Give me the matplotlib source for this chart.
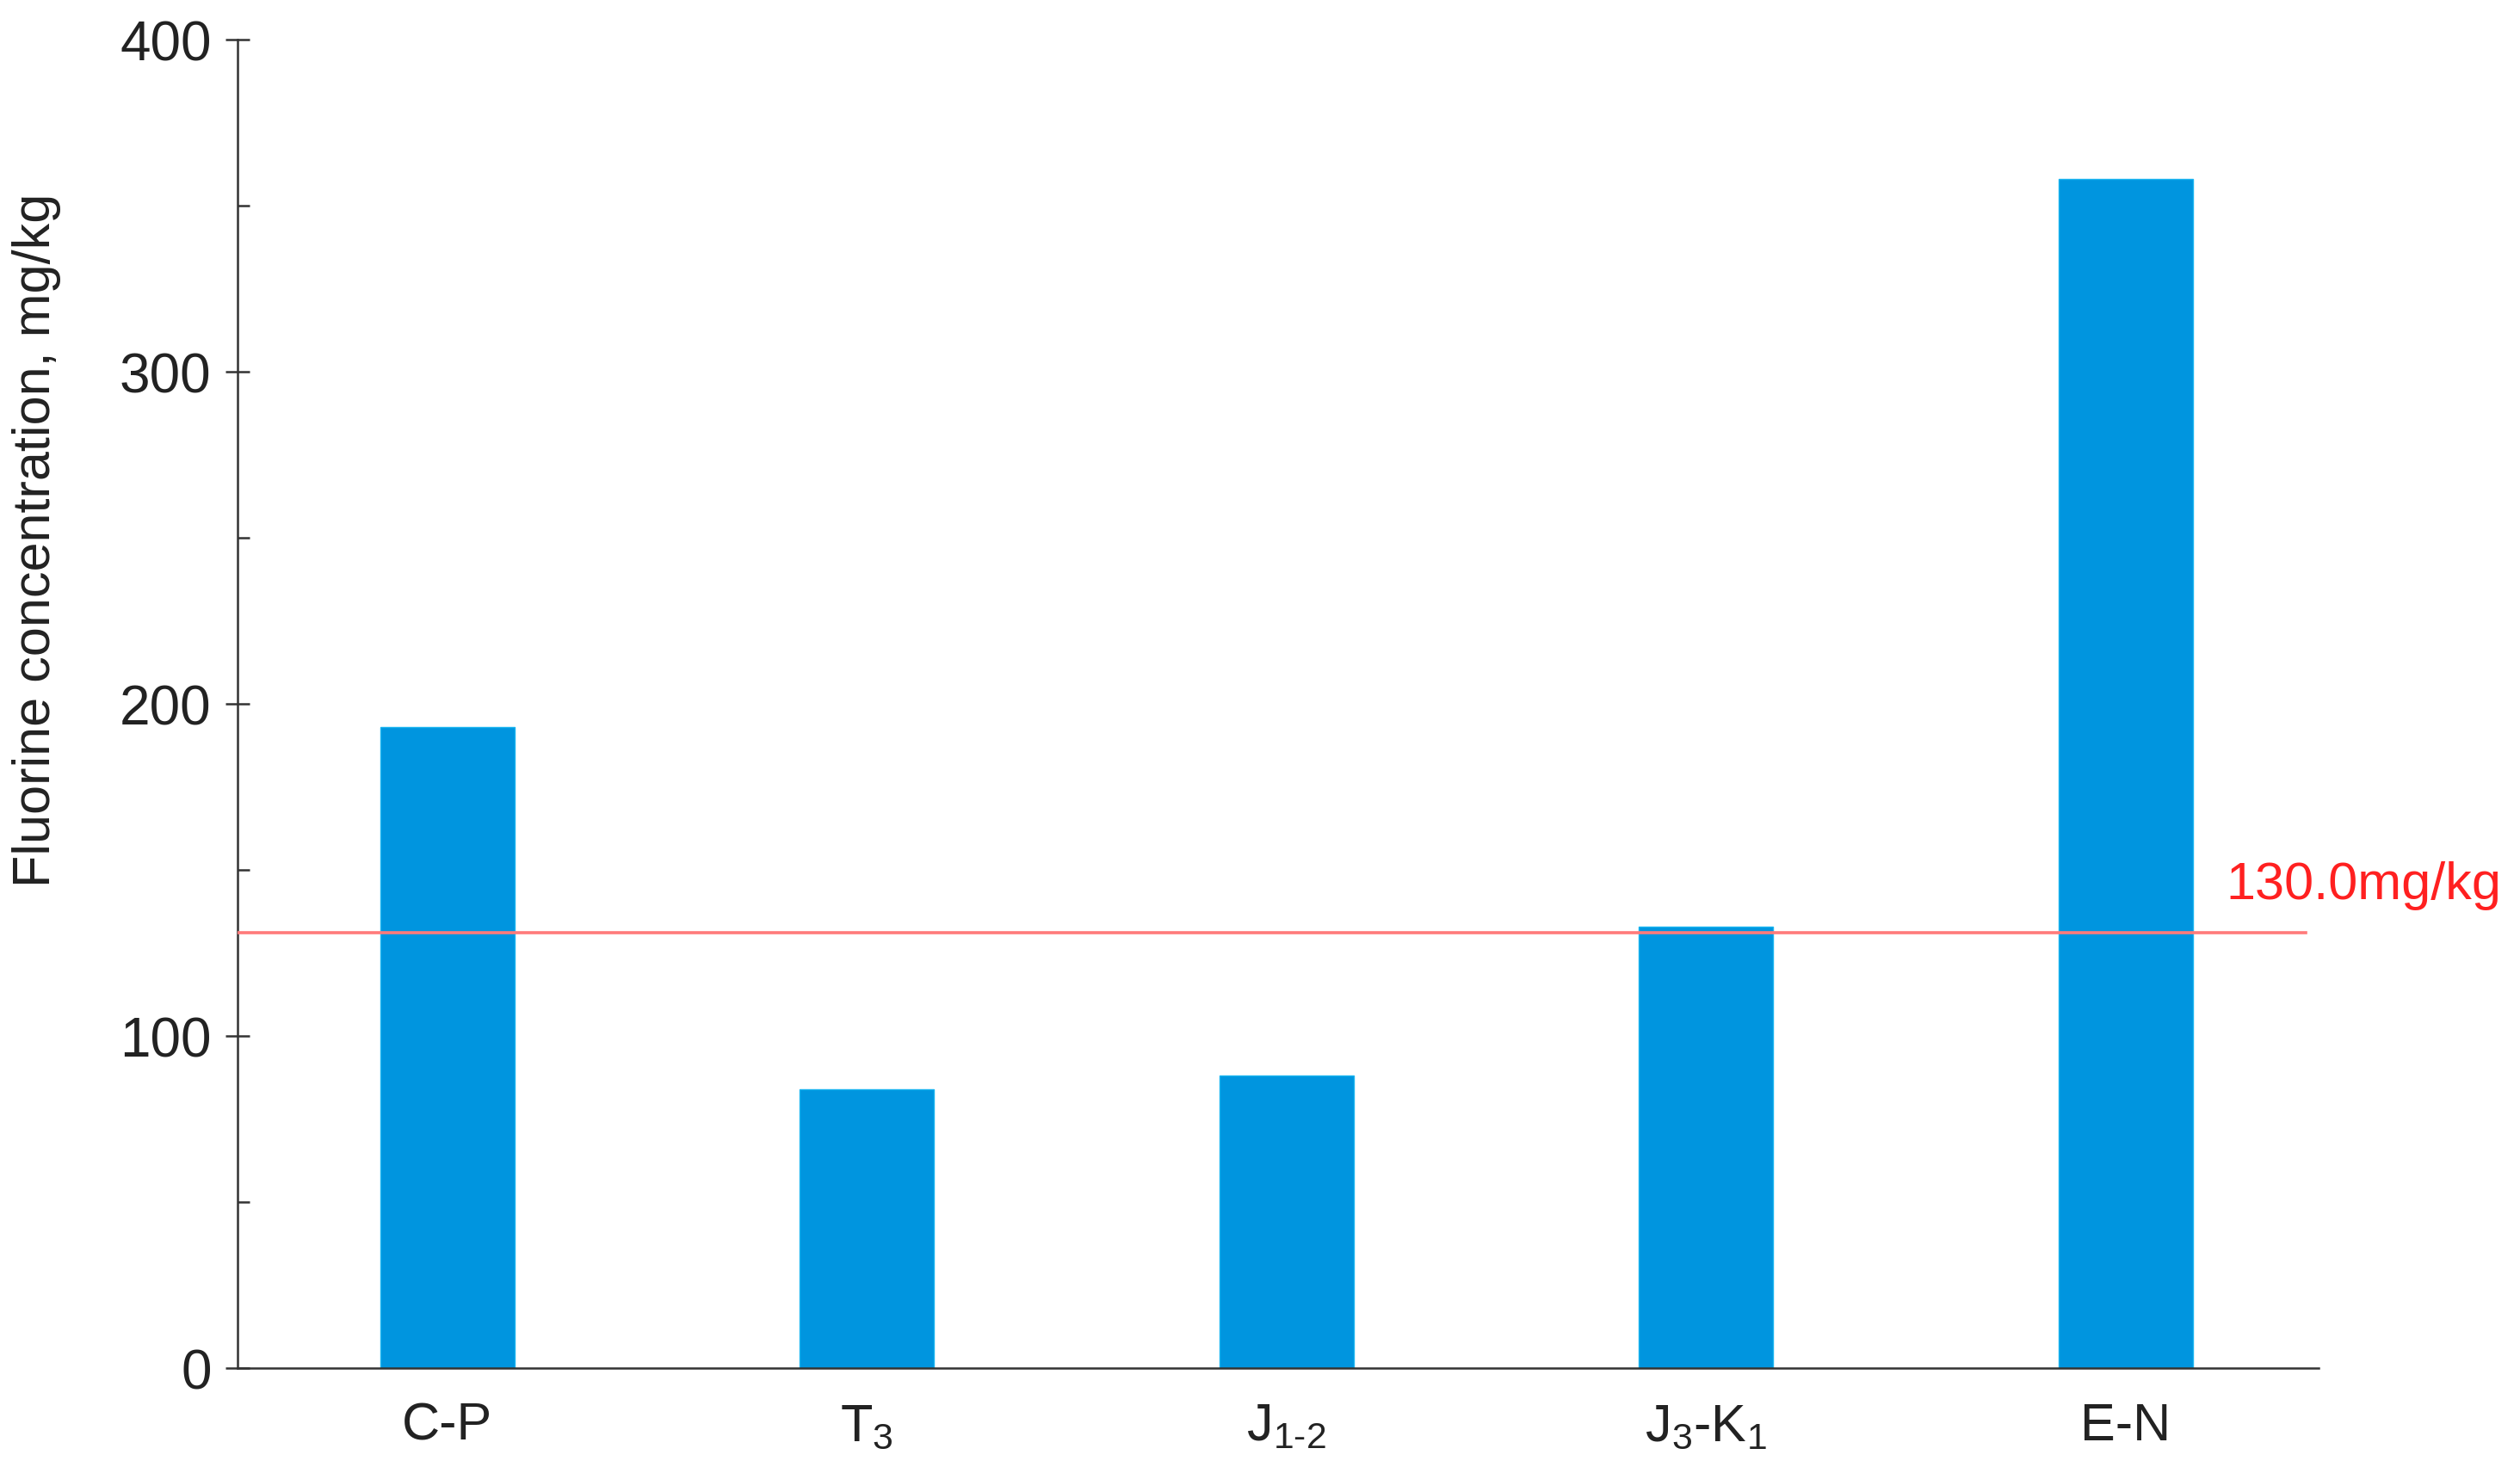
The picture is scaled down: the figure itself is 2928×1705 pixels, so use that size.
import matplotlib
matplotlib.use('Agg')
import matplotlib.pyplot as plt
from matplotlib.ticker import MultipleLocator

# data
categories = ['C-P', r'$\mathregular{T_3}$', r'$\mathregular{J_{1\text{-}2}}$',
              r'$\mathregular{J_3\text{-}K_1}$', 'E-N']
fluorine = [193, 84, 88, 133, 358]
threshold = 131
threshold_label = '130.0mg/kg'

plt.rcParams['font.family'] = ['Liberation Sans', 'DejaVu Sans']
plt.rcParams['mathtext.fontset'] = 'custom'
plt.rcParams['mathtext.rm'] = 'Liberation Sans'

fig = plt.figure(figsize=(14.64, 8.53), dpi=200)
ax = fig.add_axes([0.0943, 0.0674, 0.8257, 0.905])

x = range(len(categories))
ax.bar(x, fluorine, width=0.32, color='#0095df', edgecolor='#19b4f0', linewidth=0.5, zorder=2)
ax.plot([-0.5, 4.43], [threshold, threshold], color='#ff7a7a', lw=1.3, zorder=3)
ax.text(4.24, threshold + 7, threshold_label, color='#ff2020', fontsize=22, va='bottom', ha='left',
        clip_on=False)

ax.set_xlim(-0.5, 4.46)
ax.set_ylim(0, 400)
ax.set_xticks(list(x))
ax.set_xticklabels(categories, fontsize=22)
ax.tick_params(axis='x', length=0, pad=14, colors='#222222')
ax.yaxis.set_major_locator(MultipleLocator(100))
ax.yaxis.set_minor_locator(MultipleLocator(50))
ax.tick_params(axis='y', which='major', direction='inout', length=10, width=0.9, labelsize=23,
               pad=6, colors='#333333', labelcolor='#222222')
ax.tick_params(axis='y', which='minor', direction='in', length=5, width=0.9, colors='#333333')
ax.set_ylabel('Fluorine concentration, mg/kg', fontsize=22, color='#222222', labelpad=14)
ax.yaxis.set_label_coords(-0.085, 0.624)

for s in ['top', 'right']:
    ax.spines[s].set_visible(False)
for s in ['left', 'bottom']:
    ax.spines[s].set_color('#333333')
    ax.spines[s].set_linewidth(0.9)

fig.savefig('out.png', dpi=200)
